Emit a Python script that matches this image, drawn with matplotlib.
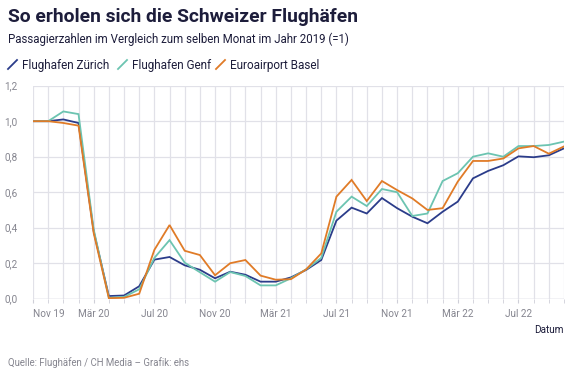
import matplotlib.pyplot as plt
from matplotlib.lines import Line2D
import numpy as np

plt.rcParams["font.family"] = ["Roboto", "DejaVu Sans"]

# ── Data (monthly, Nov 2019 – Oct 2022, ratio vs. same month 2019) ──────────
months = ["Nov 19", "Dez 19", "Jan 20", "Feb 20", "Mär 20", "Apr 20", "Mai 20",
          "Jun 20", "Jul 20", "Aug 20", "Sep 20", "Okt 20", "Nov 20", "Dez 20",
          "Jan 21", "Feb 21", "Mär 21", "Apr 21", "Mai 21", "Jun 21", "Jul 21",
          "Aug 21", "Sep 21", "Okt 21", "Nov 21", "Dez 21", "Jan 22", "Feb 22",
          "Mär 22", "Apr 22", "Mai 22", "Jun 22", "Jul 22", "Aug 22", "Sep 22",
          "Okt 22"]

zuerich = [1.0, 1.0, 1.01, 0.99, 0.38, 0.015, 0.018, 0.07, 0.22, 0.235, 0.188,
           0.163, 0.115, 0.152, 0.135, 0.096, 0.096, 0.12, 0.162, 0.218, 0.44,
           0.513, 0.48, 0.567, 0.51, 0.462, 0.425, 0.49, 0.547, 0.678, 0.72,
           0.752, 0.802, 0.797, 0.808, 0.847]
genf = [1.0, 1.0, 1.055, 1.04, 0.39, 0.005, 0.01, 0.053, 0.23, 0.33, 0.203,
        0.149, 0.096, 0.15, 0.128, 0.075, 0.075, 0.115, 0.165, 0.23, 0.49,
        0.575, 0.522, 0.618, 0.6, 0.466, 0.48, 0.663, 0.707, 0.8, 0.819,
        0.8, 0.86, 0.86, 0.866, 0.885]
basel = [1.0, 1.0, 0.99, 0.975, 0.37, 0.003, 0.005, 0.028, 0.275, 0.415, 0.27,
         0.246, 0.132, 0.2, 0.218, 0.13, 0.107, 0.11, 0.165, 0.255, 0.575,
         0.669, 0.55, 0.663, 0.612, 0.565, 0.5, 0.51, 0.66, 0.776, 0.776,
         0.79, 0.847, 0.86, 0.817, 0.858]

series = [
    ("Flughafen Zürich", zuerich, "#2b3c8a"),
    ("Flughafen Genf", genf, "#6cc4b1"),
    ("Euroairport Basel", basel, "#e07b27"),
]

yticks = [0.0, 0.2, 0.4, 0.6, 0.8, 1.0, 1.2]
label_every = 4

# ── Figure ────────────────────────────────────────────────────────────────────
DARK = "#1d1d3b"
GREY = "#85858f"
GRID = "#e1e1e8"

fig = plt.figure(figsize=(5.82, 3.77), dpi=100)
ax = fig.add_axes([33 / 582, 1 - 298.7 / 377, 531 / 582, 213 / 377])

x = np.arange(len(months))
for name, vals, col in series:
    ax.plot(x, vals, color=col, lw=1.3, solid_joinstyle="miter", zorder=3)

ax.set_xlim(0, len(months) - 1)
ax.set_ylim(0, 1.2)
for s in ax.spines.values():
    s.set_visible(False)

ax.set_yticks(yticks)
ax.set_yticklabels([f"{v:.1f}".replace(".", ",") for v in yticks])
ax.set_xticks(x, minor=True)
ax.set_xticks(x[::label_every])
ax.set_xticklabels(months[::label_every])
ax.grid(True, which="both", color=GRID, lw=0.9, zorder=0)
ax.axhline(0, color="#cfcfd8", lw=1.0, zorder=1)
ax.tick_params(axis="y", length=0, pad=11, labelsize=7.2, labelcolor=GREY)
ax.tick_params(axis="x", which="both", length=3, color="#cfcfd8",
               pad=4.5, labelsize=7.2, labelcolor=GREY)
# first label sits left-aligned at the axis edge
ax.get_xticklabels()[0].set_horizontalalignment("left")

ax.text(1.0, -0.125, "Datum", transform=ax.transAxes, ha="right", va="top",
        fontsize=7.2, color=DARK)

# ── Titles, legend, source ───────────────────────────────────────────────────
fig.text(8 / 582, 1 - 22 / 377, "So erholen sich die Schweizer Flughäfen",
         fontsize=13.9, fontweight="bold", color=DARK, va="baseline")
fig.text(8 / 582, 1 - 43.5 / 377,
         "Passagierzahlen im Vergleich zum selben Monat im Jahr 2019 (=1)",
         fontsize=8.3, color=DARK, va="baseline")

leg_x = [8, 118, 216]
for (name, vals, col), lx in zip(series, leg_x):
    fig.add_artist(Line2D([(lx) / 582, (lx + 9) / 582],
                          [1 - 69 / 377, 1 - 60 / 377],
                          color=col, lw=1.3, transform=fig.transFigure))
    fig.text((lx + 14) / 582, 1 - 68.5 / 377, name, fontsize=8.5,
             color=DARK, va="baseline")

fig.text(8 / 582, 1 - 366 / 377,
         "Quelle: Flughäfen / CH Media – Grafik: ehs",
         fontsize=6.9, color=GREY, va="baseline")

fig.savefig("out.png", dpi=100, facecolor="white")
